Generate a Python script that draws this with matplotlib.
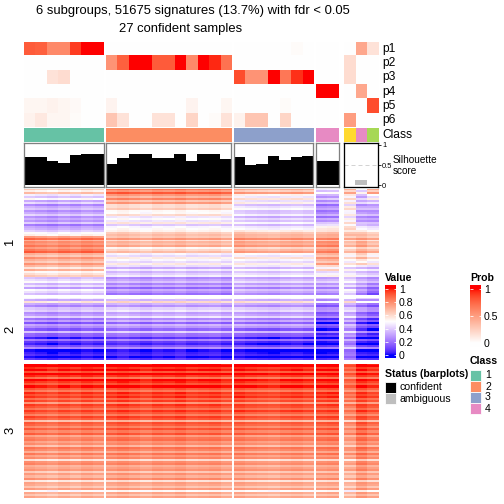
import numpy as np
import matplotlib
matplotlib.use("Agg")
import matplotlib.pyplot as plt
from matplotlib.colors import ListedColormap, to_rgb
from matplotlib.patches import Rectangle

plt.rcParams['font.family'] = ['Liberation Sans', 'DejaVu Sans']

# ---------------- data ----------------
n_cols = [7, 11, 7, 2, 3]          # columns per group (last one: ambiguous)
sample_class = [1] * 7 + [2] * 11 + [3] * 7 + [4] * 2 + [6, 4, 5]
class_colors = {1: '#66C2A5', 2: '#FC8D62', 3: '#8DA0CB', 4: '#E78AC3',
                5: '#A6D854', 6: '#FFD92F'}

p1 = [0.8, 0.78, 0.6, 0.6, 0.9, 1, 1] + [0] * 11 + [0, 0, 0, 0, 0, 0.02, 0] + [0, 0] + [0, 0.45, 0.15]
p2 = [0] * 7 + [0.55, 0.78, 1, 1, 0.8, 0.8, 1, 0.6, 1, 0.95, 0.7] + [0] * 7 + [0, 0] + [0.18, 0, 0]
p3 = [0, 0, 0.15, 0.18, 0, 0, 0] + [0] * 11 + [0.85, 0.55, 0.55, 1, 0.68, 0.93, 1] + [0, 0] + [0.18, 0, 0]
p4 = [0] * 7 + [0] * 11 + [0] * 7 + [1, 1] + [0, 0.45, 0]
p5 = [0.05, 0.05, 0.07, 0.05, 0.03, 0, 0] + [0.06, 0, 0, 0, 0, 0, 0, 0.06, 0, 0, 0.05] + [0, 0, 0, 0, 0.02, 0, 0] + [0, 0] + [0, 0, 0.85]
p6 = [0.07, 0.12, 0.05, 0.05, 0.02, 0, 0] + [0.3, 0.15, 0, 0, 0.15, 0.15, 0, 0.22, 0, 0.02, 0.15] + [0.07, 0.3, 0.3, 0, 0.22, 0, 0] + [0, 0] + [0.5, 0, 0]
prob_names = ['p1', 'p2', 'p3', 'p4', 'p5', 'p6']

silhouette = [0.7, 0.7, 0.6, 0.55, 0.75, 0.78, 0.78,
              0.53, 0.68, 0.78, 0.78, 0.68, 0.68, 0.78, 0.6, 0.78, 0.78, 0.65,
              0.7, 0.5, 0.53, 0.73, 0.63, 0.7, 0.73,
              0.6, 0.6,
              0, 0.12, 0]

# heatmap: band profiles (top -> bottom) for each row slice and column group
s1_g1 = [0.56, 0.45, 0.33, 0.3, 0.31, 0.28, 0.27, 0.48, 0.78, 0.76, 0.8, 0.72, 0.68, 0.64, 0.53, 0.42, 0.38, 0.4]
s1_g2 = [0.8, 0.76, 0.68, 0.56, 0.5, 0.46, 0.45, 0.62, 0.68, 0.66, 0.58, 0.5, 0.47, 0.4, 0.36, 0.3, 0.27, 0.24]
s1_g3 = [0.66, 0.53, 0.46, 0.42, 0.38, 0.39, 0.42, 0.64, 0.72, 0.7, 0.66, 0.53, 0.47, 0.43, 0.39, 0.36, 0.33, 0.3]
s1_g4 = [0.4, 0.34, 0.27, 0.24, 0.24, 0.28, 0.5, 0.66, 0.74, 0.76, 0.74, 0.72, 0.68, 0.56, 0.43, 0.34, 0.3, 0.26]
s1_a1 = [0.64, 0.56, 0.5, 0.53, 0.47, 0.5, 0.56, 0.64, 0.66, 0.64, 0.6, 0.56, 0.5, 0.47, 0.43, 0.43, 0.4, 0.43]
s1_a2 = [0.43, 0.37, 0.34, 0.3, 0.3, 0.28, 0.43, 0.64, 0.7, 0.71, 0.68, 0.66, 0.56, 0.43, 0.37, 0.34, 0.32, 0.25]
s1_a3 = [0.66, 0.5, 0.37, 0.3, 0.28, 0.27, 0.4, 0.6, 0.66, 0.64, 0.64, 0.56, 0.5, 0.4, 0.34, 0.3, 0.25, 0.15]

s2_g1 = [0.36, 0.31, 0.28, 0.25, 0.22, 0.18, 0.1, 0.06, 0.02, 0.01]
s2_g2 = [0.4, 0.34, 0.33, 0.3, 0.26, 0.22, 0.14, 0.08, 0.04, 0.02]
s2_g3 = [0.38, 0.33, 0.31, 0.28, 0.26, 0.18, 0.1, 0.05, 0.02, 0.01]
s2_g4 = [0.28, 0.2, 0.16, 0.1, 0.08, 0.05, 0.03, 0.01, 0.0, 0.0]
s2_a1 = [0.4, 0.35, 0.33, 0.32, 0.3, 0.28, 0.25, 0.22, 0.2, 0.18]
s2_a2 = [0.3, 0.25, 0.2, 0.15, 0.12, 0.1, 0.06, 0.04, 0.03, 0.02]
s2_a3 = [0.3, 0.2, 0.15, 0.1, 0.08, 0.05, 0.03, 0.02, 0.02, 0.01]

s3_g1 = [1.0, 0.98, 0.96, 0.93, 0.92, 0.9, 0.9, 0.88, 0.88, 0.85, 0.84, 0.82, 0.78, 0.78, 0.76, 0.74, 0.75, 0.72, 0.71, 0.7, 0.69, 0.68]
s3_g2 = [1.0, 0.98, 0.95, 0.95, 0.93, 0.92, 0.92, 0.9, 0.9, 0.88, 0.87, 0.85, 0.82, 0.8, 0.78, 0.77, 0.76, 0.74, 0.74, 0.72, 0.71, 0.7]
s3_g3 = [1.0, 0.97, 0.95, 0.94, 0.92, 0.92, 0.9, 0.9, 0.88, 0.86, 0.85, 0.83, 0.8, 0.79, 0.77, 0.76, 0.74, 0.74, 0.72, 0.72, 0.7, 0.69]
s3_g4 = [1.0, 0.98, 0.96, 0.95, 0.94, 0.93, 0.92, 0.9, 0.9, 0.88, 0.87, 0.85, 0.83, 0.81, 0.79, 0.77, 0.76, 0.74, 0.74, 0.72, 0.71, 0.7]
s3_a1 = [0.9, 0.88, 0.86, 0.85, 0.84, 0.82, 0.83, 0.8, 0.8, 0.78, 0.76, 0.77, 0.74, 0.73, 0.74, 0.71, 0.7, 0.71, 0.68, 0.68, 0.66, 0.66]
s3_a2 = [1.0, 0.98, 0.96, 0.95, 0.94, 0.93, 0.92, 0.92, 0.9, 0.9, 0.88, 0.87, 0.85, 0.84, 0.82, 0.81, 0.8, 0.79, 0.77, 0.76, 0.75, 0.74]
s3_a3 = [0.98, 0.95, 0.94, 0.92, 0.9, 0.9, 0.88, 0.88, 0.86, 0.85, 0.83, 0.82, 0.8, 0.79, 0.77, 0.76, 0.75, 0.74, 0.72, 0.72, 0.7, 0.7]

# row-wise stripe deviations (3 rows per band), read as light/dark streaks
stripe_s1 = [0.06, -0.04, 0.1, 0.0, -0.08, 0.05, -0.03, 0.08, -0.1, 0.02, 0.07, -0.05,
             0.0, 0.09, -0.06, 0.04, -0.02, 0.1, -0.07, 0.03, 0.06, -0.09, 0.01, 0.05,
             -0.04, 0.08, -0.1, 0.03, 0.0, 0.07, -0.06, 0.02, 0.09, -0.03, -0.08, 0.05,
             0.01, -0.05, 0.08, 0.03, -0.09, 0.06, -0.02, 0.04, 0.1, -0.06, 0.0, 0.07,
             -0.04, 0.05, -0.1, 0.08, 0.02, -0.05]
stripe_s2 = [0.1, -0.05, 0.2, 0.0, -0.08, 0.06, 0.12, -0.04, 0.0, 0.15,
             -0.06, 0.04, -0.1, 0.08, 0.02, -0.05, 0.18, -0.02, 0.05, -0.08,
             0.1, 0.0, -0.04, 0.06, 0.22, -0.03, 0.0, 0.04, -0.02, 0.05]
stripe_s3 = [0.0, 0.03, -0.05, 0.02, -0.08, 0.04, 0.0, -0.12, 0.05, 0.02, -0.04, 0.06,
             -0.02, -0.1, 0.04, 0.0, 0.05, -0.06, 0.03, -0.15, 0.04, 0.02, -0.05, 0.06,
             0.0, -0.08, 0.05, 0.03, -0.2, 0.04, 0.02, -0.06, 0.05, -0.03, 0.06, -0.1,
             0.02, 0.04, -0.05, 0.0, -0.12, 0.05, 0.03, -0.07, 0.06, -0.02, 0.04, -0.18,
             0.02, 0.05, -0.06, 0.0, 0.04, -0.1, 0.03, -0.04, 0.06, -0.15, 0.02, 0.0,
             -0.06, 0.05, -0.2, 0.03, -0.05, 0.04]

# small per-column shifts inside the groups
col_shift_g1 = [0.02, 0.0, -0.02, 0.01, -0.01, 0.02, 0.0]
col_shift_g2 = [0.0, 0.02, 0.0, -0.02, 0.01, 0.0, 0.02, -0.01, 0.0, 0.01, -0.02]
col_shift_g3 = [0.02, 0.0, -0.01, -0.02, 0.0, 0.01, -0.01]
col_shift_g4 = [0.0, 0.01]
col_shift_amb = [0.0, 0.0, 0.0]


# ---------------- colours (LAB interpolation like colorRamp2) ----------------
M_XYZ = np.array([[0.4124, 0.3576, 0.1805],
                  [0.2126, 0.7152, 0.0722],
                  [0.0193, 0.1192, 0.9505]])
WHITE_PT = np.array([0.95047, 1.0, 1.08883])


def srgb_to_lab(c):
    c = np.asarray(c, float)
    lin = np.where(c <= 0.04045, c / 12.92, ((c + 0.055) / 1.055) ** 2.4)
    xyz = M_XYZ @ lin / WHITE_PT
    f = np.where(xyz > 0.008856, np.cbrt(xyz), 7.787 * xyz + 16 / 116)
    return np.array([116 * f[1] - 16, 500 * (f[0] - f[1]), 200 * (f[1] - f[2])])


def lab_to_srgb(lab):
    L, a, b = lab
    fy = (L + 16) / 116
    f = np.array([fy + a / 500, fy, fy - b / 200])
    xyz = np.where(f > 0.2069, f ** 3, (f - 16 / 116) / 7.787) * WHITE_PT
    lin = np.clip(np.linalg.inv(M_XYZ) @ xyz, 0, 1)
    c = np.where(lin <= 0.0031308, 12.92 * lin, 1.055 * lin ** (1 / 2.4) - 0.055)
    return np.clip(c, 0, 1)


def lab_ramp(stops, colors, n=256):
    labs = [srgb_to_lab(to_rgb(c)) for c in colors]
    out = []
    for v in np.linspace(stops[0], stops[-1], n):
        i = min(np.searchsorted(stops, v, side='right') - 1, len(stops) - 2)
        t = (v - stops[i]) / (stops[i + 1] - stops[i])
        out.append(lab_to_srgb((1 - t) * labs[i] + t * labs[i + 1]))
    return ListedColormap(out)


heat_cmap = lab_ramp([0, 0.5, 1], ['#0000FF', '#FFFFFF', '#FF0000'])
prob_cmap = lab_ramp([0, 1], ['#FFFFFF', '#FF0000'])

# ---------------- layout (pixels) ----------------
W = H = 504
fig = plt.figure(figsize=(7, 7), dpi=72)

col_w = 11.4
group_x0 = [24, 106, 233.5, 316, 344]
slice_y = [(189, 295.5), (297.5, 360.5), (363.5, 498)]
prob_y = (42, 127)
class_y = (128, 142)
sil_y = (143.3, 186.7)


def px_axes(x0, y0, x1, y1):
    return fig.add_axes([x0 / W, 1 - y1 / H, (x1 - x0) / W, (y1 - y0) / H])


col_start = np.cumsum([0] + n_cols)
prob_mat = np.array([p1, p2, p3, p4, p5, p6])
slices = [
    [s1_g1, s1_g2, s1_g3, s1_g4, [s1_a1, s1_a2, s1_a3]],
    [s2_g1, s2_g2, s2_g3, s2_g4, [s2_a1, s2_a2, s2_a3]],
    [s3_g1, s3_g2, s3_g3, s3_g4, [s3_a1, s3_a2, s3_a3]],
]
stripes = [stripe_s1, stripe_s2, stripe_s3]
shifts = [col_shift_g1, col_shift_g2, col_shift_g3, col_shift_g4, col_shift_amb]

for g, n in enumerate(n_cols):
    x0 = group_x0[g]
    x1 = x0 + n * col_w
    cols = slice(col_start[g], col_start[g + 1])
    amb = g == len(n_cols) - 1

    # probability annotation rows
    ax = px_axes(x0, prob_y[0], x1, prob_y[1])
    ax.imshow(prob_mat[:, cols], cmap=prob_cmap, vmin=0, vmax=1,
              aspect='auto', interpolation='nearest')
    ax.axis('off')

    # class row
    ax = px_axes(x0, class_y[0], x1, class_y[1])
    rgb = np.array([[to_rgb(class_colors[c]) for c in sample_class[cols]]])
    ax.imshow(rgb, aspect='auto', interpolation='nearest')
    ax.axis('off')

    # silhouette barplot
    ax = px_axes(x0, sil_y[0], x1, sil_y[1])
    ax.axhline(0.5, color='#D3D3D3', lw=1, ls=(0, (4, 3)), zorder=0)
    ax.bar(np.arange(n) + 0.5, silhouette[cols], width=1.0,
           color='#BEBEBE' if amb else 'black', zorder=2)
    ax.set_xlim(0, n)
    ax.set_ylim(-0.04, 1.04)
    ax.set_xticks([])
    for sp in ax.spines.values():
        sp.set_color('black' if amb else '#808080')
        sp.set_linewidth(1.3)
    if amb:
        ax.yaxis.tick_right()
        ax.set_yticks([0, 0.5, 1])
        ax.set_yticklabels(['0', '0.5', '1'])
        ax.tick_params(axis='y', length=3, width=0.8, labelsize=7.5, pad=1)
    else:
        ax.set_yticks([])

    # heatmap slices
    for s, (ya, yb) in enumerate(slice_y):
        prof = np.array(slices[s][g])
        if prof.ndim == 1:
            prof = prof[:, None] + np.array(shifts[g])[None, :]
        else:
            prof = prof.T
        mat = np.repeat(prof, 3, axis=0) + np.array(stripes[s])[:, None]
        ax = px_axes(x0, ya, x1, yb)
        ax.imshow(np.clip(mat, 0, 1), cmap=heat_cmap, vmin=0, vmax=1,
                  aspect='auto', interpolation='nearest')
        ax.axis('off')

# ---------------- legends ----------------
LEG_FS = 10.5


def colorbar_axes(x0, y0, x1, y1, cmap, lo, hi, ticks, labels):
    ax = px_axes(x0, y0, x1, y1)
    grad = np.linspace(hi, lo, 200)[:, None]
    ax.imshow(np.clip(grad, 0, 1), cmap=cmap, vmin=0, vmax=1, aspect='auto',
              extent=[0, 1, lo, hi])
    ax.set_ylim(lo, hi)
    ax.set_xticks([])
    ax.set_yticks(ticks)
    ax.set_yticklabels(labels)
    ax.tick_params(axis='y', left=True, right=True, labelleft=False,
                   labelright=True, direction='in', color='white',
                   length=2.5, width=0.8, labelsize=LEG_FS, pad=3)
    for sp in ax.spines.values():
        sp.set_visible(False)


colorbar_axes(385, 285, 396, 358, heat_cmap, -0.045, 1.06,
              [0, 0.2, 0.4, 0.6, 0.8, 1], ['0', '0.2', '0.4', '0.6', '0.8', '1'])
colorbar_axes(470, 285, 481, 347, prob_cmap, -0.074, 1.074,
              [0, 0.5, 1], ['0', '0.5', '1'])

# overlay in pixel coordinates for texts and legend keys
ov = fig.add_axes([0, 0, 1, 1])
ov.set_xlim(0, W)
ov.set_ylim(H, 0)
ov.axis('off')

ov.text(193, 11, '6 subgroups, 51675 signatures (13.7%) with fdr < 0.05',
        fontsize=13, ha='center', va='center')
ov.text(180.5, 29, '27 confident samples', fontsize=13, ha='center', va='center')

row_h = (prob_y[1] - prob_y[0]) / len(prob_names)
for i, name in enumerate(prob_names):
    ov.text(382, prob_y[0] + row_h * (i + 0.5), name, fontsize=12, va='center')
ov.text(382, (class_y[0] + class_y[1]) / 2, 'Class', fontsize=12, va='center')
ov.text(393, 160, 'Silhouette', fontsize=10, va='center')
ov.text(393, 171, 'score', fontsize=10, va='center')

for lab, (ya, yb) in zip(['1', '2', '3'], slice_y):
    ov.text(10, (ya + yb) / 2, lab, fontsize=13, rotation=90,
            ha='center', va='center')

ov.text(385, 278, 'Value', fontsize=LEG_FS, fontweight='bold', va='center')
ov.text(470, 278, 'Prob', fontsize=LEG_FS, fontweight='bold', va='center')
ov.text(470, 361, 'Class', fontsize=LEG_FS, fontweight='bold', va='center')
ov.text(385, 374, 'Status (barplots)', fontsize=LEG_FS, fontweight='bold', va='center')

for i, c in enumerate([1, 2, 3, 4]):
    y = 370 + 11 * i
    ov.add_patch(Rectangle((470, y), 11, 11, facecolor=class_colors[c],
                           edgecolor='white', lw=0.8))
    ov.text(485, y + 5.5, str(c), fontsize=LEG_FS, va='center')

for i, (lab, col) in enumerate([('confident', 'black'), ('ambiguous', '#BEBEBE')]):
    y = 382 + 11 * i
    ov.add_patch(Rectangle((385, y), 11, 11, facecolor=col,
                           edgecolor='white', lw=0.8))
    ov.text(399, y + 5.5, lab, fontsize=LEG_FS, va='center')

fig.savefig('out.png', dpi=72)
